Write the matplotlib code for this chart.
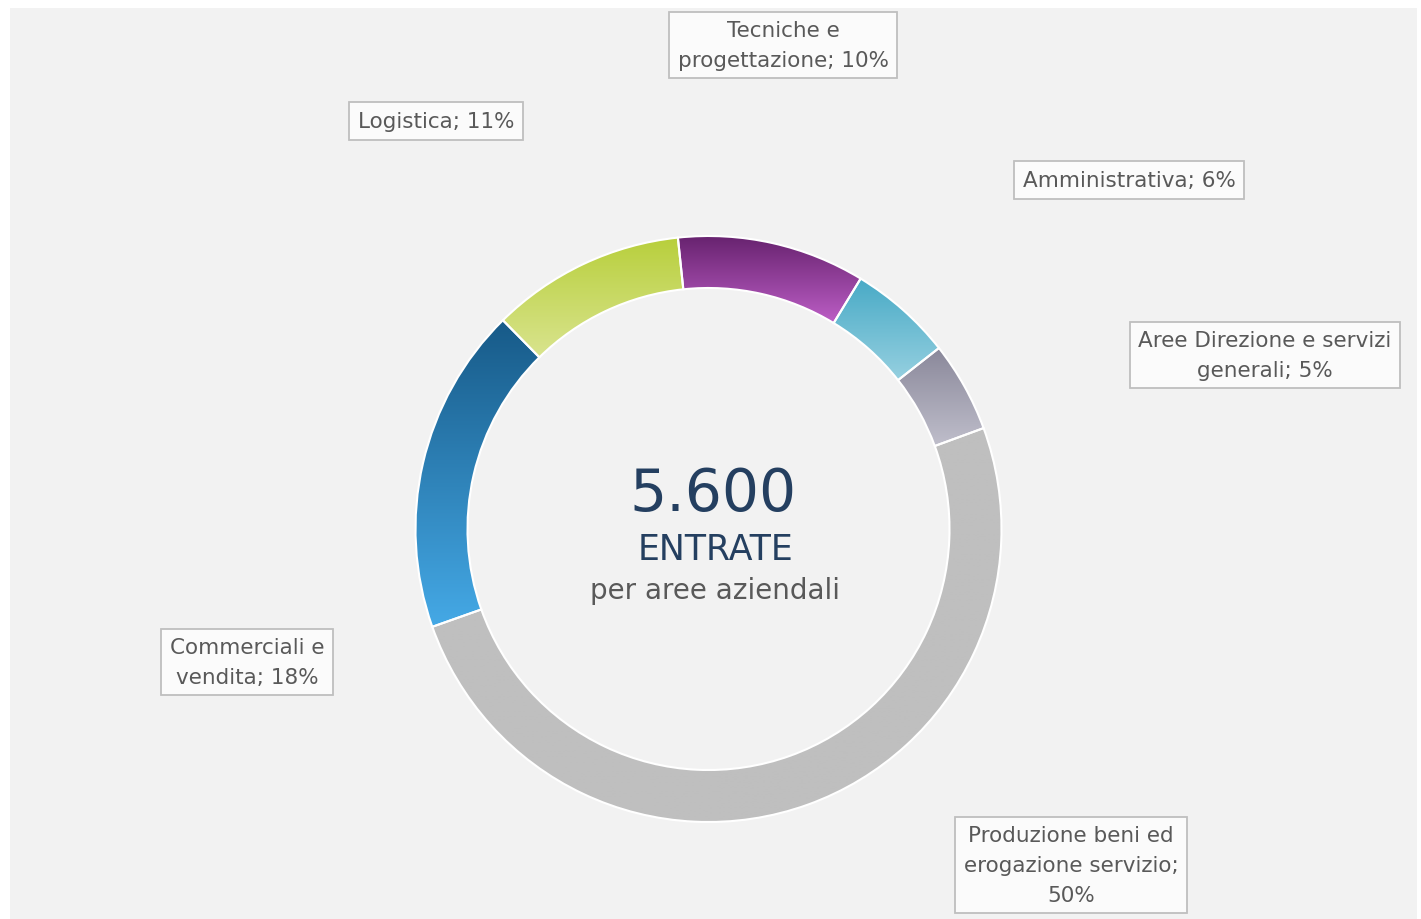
import matplotlib
matplotlib.use("Agg")
import matplotlib.pyplot as plt
import numpy as np
from matplotlib.colors import LinearSegmentedColormap
from matplotlib.patches import Rectangle

# Entrate per area aziendale (totale 5.600)
AREAS = [
    "Tecniche e\nprogettazione",
    "Amministrativa",
    "Aree Direzione e servizi\ngenerali",
    "Produzione beni ed\nerogazione servizio;\n",
    "Commerciali e\nvendita",
    "Logistica",
]
VALUES = [580, 320, 280, 2810, 1010, 600]
TOTAL_LABEL = "5.600"

# gradient colours (top, bottom) per segment
GRADIENTS = [
    ("#66226e", "#bd5ec6"),
    ("#48aac6", "#96d0e0"),
    ("#8a889a", "#bfbecb"),
    ("#bfbfbf", "#bfbfbf"),
    ("#175a88", "#45a9e6"),
    ("#b8cf3c", "#d9e48e"),
]

# label box centres in pixel coordinates (x, y from top)
LABEL_POS = [(783, 46), (1129, 181), (1265, 356), (1071, 866), (247, 663), (436, 122)]

W, H = 1421, 920
CX, CY = 708.5, 530
R_OUT, R_IN = 293, 241
TEXT = "#595959"
NAVY = "#243f60"

plt.rcParams["font.family"] = ["DejaVu Sans"]

fig = plt.figure(figsize=(W / 100, H / 100), dpi=100, facecolor="white")
ax = fig.add_axes([0, 0, 1, 1])

ax.add_patch(Rectangle((10, 0), 1407, H - 9, facecolor="#f2f2f2", edgecolor="none", zorder=0))

wedges, _ = ax.pie(
    VALUES,
    center=(CX, H - CY),
    radius=R_OUT,
    startangle=96,
    counterclock=False,
    wedgeprops=dict(width=R_OUT - R_IN, edgecolor="white", linewidth=1.5),
    frame=True,
)
ax.set_xlim(0, W)
ax.set_ylim(0, H)
ax.axis("off")

for w, (top, bottom) in zip(wedges, GRADIENTS):
    ext = w.get_path().get_extents()
    cmap = LinearSegmentedColormap.from_list("g", [bottom, top])
    grad = np.linspace(0, 1, 256).reshape(-1, 1)
    im = ax.imshow(grad, cmap=cmap, extent=[ext.x0, ext.x1, ext.y0, ext.y1],
                   origin="lower", aspect="auto", zorder=2, interpolation="bilinear")
    im.set_clip_path(w)
    w.set_facecolor("none")
    w.set_zorder(3)

total = sum(VALUES)
for name, val, (px, py) in zip(AREAS, VALUES, LABEL_POS):
    pct = f"{round(val / total * 100)}%"
    if name.endswith("\n"):
        label = name + pct
    else:
        label = f"{name}; {pct}"
    ax.text(px, H - py, label, ha="center", va="center", fontsize=15.5, color=TEXT,
            linespacing=1.6, zorder=5,
            bbox=dict(boxstyle="square,pad=0.4", facecolor="#fbfbfb", edgecolor="#bfbfbf", linewidth=1.3))

ax.text(CX + 5, H - 495, TOTAL_LABEL, ha="center", va="center", fontsize=42, color=NAVY, zorder=5)
ax.text(CX + 7, H - 550, "ENTRATE", ha="center", va="center", fontsize=25, color=NAVY, zorder=5)
ax.text(CX + 7, H - 591, "per aree aziendali", ha="center", va="center", fontsize=20, color=TEXT, zorder=5)

fig.savefig("out.png", dpi=100, facecolor="white")
